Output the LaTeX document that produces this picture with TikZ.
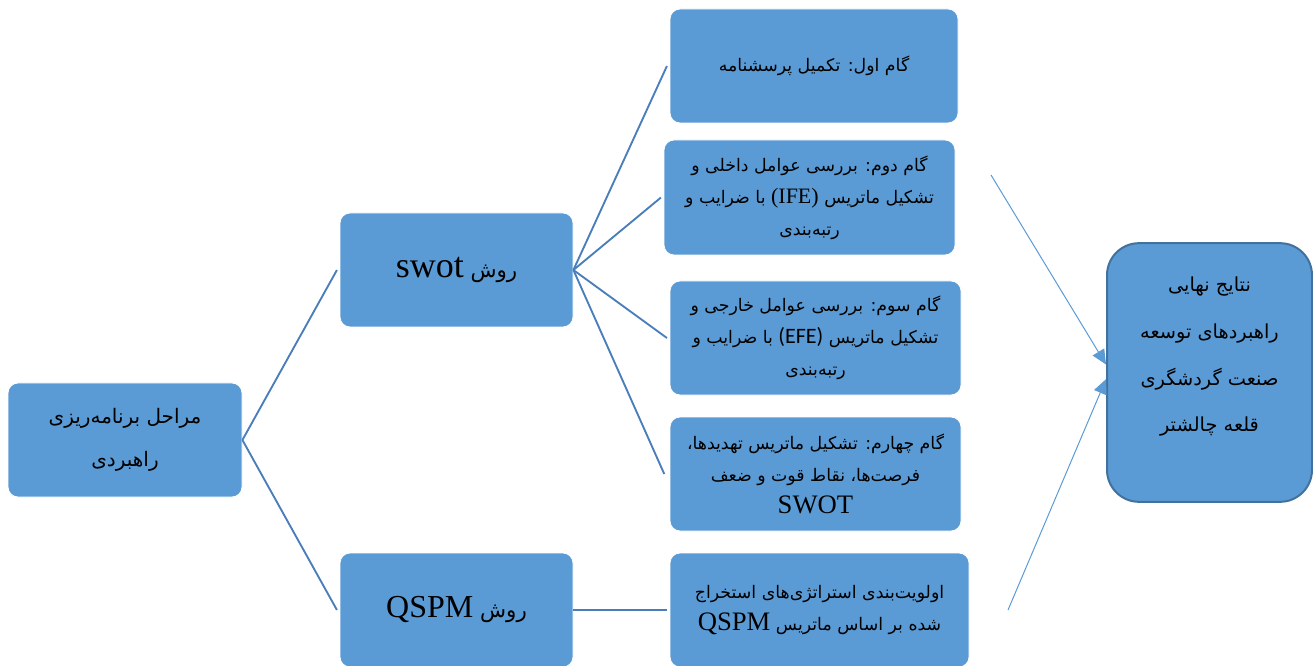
\documentclass[tikz,border=0pt]{standalone}
\usepackage{fontspec}
\usetikzlibrary{arrows.meta}
\TeXXeTstate=1
\newfontfamily\fafont[Script=Arabic]{DejaVu Sans}
\newfontfamily\latfont{Liberation Serif}
\newfontfamily\efefont{Carlito}
\newcommand\fa[1]{\beginR #1\endR}
\newcommand\latn[1]{\beginL{\latfont #1}\endL}
\definecolor{boxblue}{HTML}{5B9BD5}
\definecolor{boxedge}{HTML}{41719C}
\definecolor{treeline}{HTML}{4A7EBB}
\definecolor{arrowline}{HTML}{5B9BD5}
\tikzset{
  box/.style={draw=white, line width=0.6pt, fill=boxblue, rounded corners=7.5pt,
    inner sep=0pt, align=center, text=black,
    font=\fafont\fontsize{13pt}{24pt}\selectfont},
  resbox/.style={draw=boxedge, line width=1.5pt, fill=boxblue, rounded corners=24pt,
    minimum width=153.75pt, minimum height=194pt, inner sep=0pt},
  restext/.style={align=center, inner sep=0pt, font=\fafont\fontsize{14.5pt}{35pt}\selectfont},
  tree/.style={draw=treeline, line width=1.4pt},
  arr/.style={draw=arrowline, line width=0.75pt, -{Triangle[length=11pt,width=10pt]}}
}
\begin{document}
\begin{tikzpicture}[x=0.75pt,y=-0.75pt]
\useasboundingbox (0,0) rectangle (1313,666);
% left column
\node[box, minimum width=175.5pt, minimum height=85.5pt, font=\fafont\fontsize{15pt}{32pt}\selectfont]
  (main) at (125,440) {\fa{مراحل برنامه‌ریزی}\\\fa{راهبردی}};
\node[box, minimum width=174.75pt, minimum height=85.5pt, font=\fafont\fontsize{16pt}{24pt}\selectfont] (swot) at (456.5,270)
  {\fa{روش \latn{\fontsize{27pt}{28pt}\selectfont swot}}};
\node[box, minimum width=174.75pt, minimum height=85.5pt, font=\fafont\fontsize{16pt}{24pt}\selectfont] (qspm) at (456.5,610)
  {\fa{روش \latn{\fontsize{24pt}{26pt}\selectfont QSPM}}};
% steps
\node[box, minimum width=216pt, minimum height=85.5pt] (s1) at (814,66)
  {\fa{گام اول: تکمیل پرسشنامه}};
\node[box, minimum width=218.25pt, minimum height=86.25pt] (s2) at (809.5,197.5)
  {\fa{گام دوم: بررسی عوامل داخلی و}\\\fa{تشکیل ماتریس \latn{\fontsize{16.5pt}{18pt}\selectfont(IFE)} با ضرایب و}\\\fa{رتبه‌بندی}};
\node[box, minimum width=218.25pt, minimum height=85.5pt] (s3) at (815.5,338)
  {\fa{گام سوم: بررسی عوامل خارجی و}\\\fa{تشکیل ماتریس \beginL{\efefont\fontsize{16.5pt}{18pt}\selectfont(EFE)}\endL{} با ضرایب و}\\\fa{رتبه‌بندی}};
\node[box, minimum width=218.25pt, minimum height=85.5pt] (s4) at (815.5,474)
  {\fa{گام چهارم: تشکیل ماتریس تهدیدها،}\\\fa{فرصت‌ها، نقاط قوت و ضعف}\\\latn{\fontsize{20pt}{22pt}\selectfont SWOT}};
\node[box, minimum width=224.25pt, minimum height=85.5pt] (q1) at (819.5,610)
  {\fa{اولویت‌بندی استراتژی‌های استخراج}\\\fa{شده بر اساس ماتریس \latn{\fontsize{20pt}{22pt}\selectfont QSPM}}};
% result
\node[resbox] (res) at (1209.5,372.5) {};
\node[restext] (restxt) at (1209.5,357)
  {\fa{نتایج نهایی}\\\fa{راهبردهای توسعه}\\\fa{صنعت گردشگری}\\\fa{قلعه چالشتر}};
% tree connectors
\draw[tree] (main.east) -- ([xshift=-2pt]swot.west);
\draw[tree] (main.east) -- ([xshift=-2pt]qspm.west);
\draw[tree] (swot.east) -- ([xshift=-2pt]s1.west);
\draw[tree] (swot.east) -- ([xshift=-2pt]s2.west);
\draw[tree] (swot.east) -- ([xshift=-2pt]s3.west);
\draw[tree] (swot.east) -- ([xshift=-4pt]s4.west);
\draw[tree] (qspm.east) -- ([xshift=-2pt]q1.west);
% arrows
\coordinate (a1) at (991,175);
\coordinate (a2) at (1008,610);
\draw[arr] (a1) -- ([yshift=6pt]res.west);
\draw[arr] (a2) -- ([yshift=-5pt]res.west);
\end{tikzpicture}
\end{document}
